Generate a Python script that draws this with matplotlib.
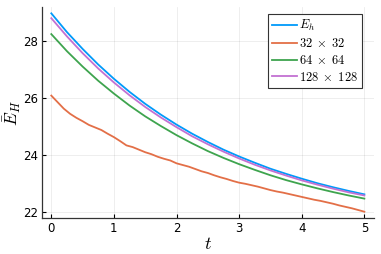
import numpy as np
import matplotlib
matplotlib.use("Agg")
import matplotlib.pyplot as plt

plt.rcParams['mathtext.fontset'] = 'cm'
plt.rcParams['font.family'] = 'DejaVu Sans'

# values (step 0.25 for the smooth curves)
t_fine = [0.0, 0.25, 0.5, 0.75, 1.0, 1.25, 1.5, 1.75, 2.0, 2.25, 2.5,
          2.75, 3.0, 3.25, 3.5, 3.75, 4.0, 4.25, 4.5, 4.75, 5.0]
E_h = [28.97, 28.31, 27.72, 27.17, 26.67, 26.21, 25.79, 25.41, 25.06, 24.74, 24.45,
       24.18, 23.94, 23.72, 23.51, 23.33, 23.16, 23.00, 22.86, 22.73, 22.61]
E_64 = [28.24, 27.64, 27.10, 26.60, 26.15, 25.73, 25.35, 25.01, 24.69, 24.40, 24.13,
        23.89, 23.67, 23.47, 23.28, 23.11, 22.96, 22.82, 22.69, 22.57, 22.46]
E_128 = [28.80, 28.16, 27.57, 27.03, 26.54, 26.09, 25.68, 25.31, 24.97, 24.65, 24.37,
         24.11, 23.87, 23.65, 23.45, 23.27, 23.10, 22.95, 22.81, 22.68, 22.57]

# the 32x32 curve is a bit bumpy, read at step 0.1
t_32 = [0.0, 0.1, 0.2, 0.3, 0.4, 0.5, 0.6, 0.7, 0.8, 0.9, 1.0, 1.1, 1.2, 1.3, 1.4, 1.5, 1.6,
        1.7, 1.8, 1.9, 2.0, 2.1, 2.2, 2.3, 2.4, 2.5, 2.6, 2.7, 2.8, 2.9, 3.0, 3.1, 3.2, 3.3,
        3.4, 3.5, 3.6, 3.7, 3.8, 3.9, 4.0, 4.1, 4.2, 4.3, 4.4, 4.5, 4.6, 4.7, 4.8, 4.9, 5.0]
E_32 = [26.08, 25.85, 25.62, 25.44, 25.30, 25.18, 25.05, 24.96, 24.87, 24.74, 24.62,
        24.48, 24.33, 24.27, 24.18, 24.09, 24.02, 23.93, 23.86, 23.80, 23.70, 23.64,
        23.58, 23.50, 23.42, 23.36, 23.28, 23.21, 23.15, 23.08, 23.02, 22.98, 22.93,
        22.88, 22.82, 22.76, 22.71, 22.67, 22.62, 22.57, 22.52, 22.47, 22.42, 22.38,
        22.33, 22.28, 22.22, 22.17, 22.12, 22.06, 22.00]

fig = plt.figure(figsize=(3.81, 2.54), dpi=100)
ax = fig.add_axes([0.110, 0.143, 0.871, 0.828])

lw = 1.3
ax.plot(t_fine, E_h, color='#009AFA', lw=lw, label=r'$E_h$')
ax.plot(t_32, E_32, color='#E36F47', lw=lw, label=r'$32\;\times\;32$')
ax.plot(t_fine, E_64, color='#3EA44E', lw=lw, label=r'$64\;\times\;64$')
ax.plot(t_fine, E_128, color='#C371D2', lw=lw, label=r'$128\;\times\;128$')

ax.set_xlim(-0.15, 5.15)
ax.set_ylim(21.79, 29.18)
ax.set_xticks([0, 1, 2, 3, 4, 5])
ax.set_yticks([22, 24, 26, 28])

ax.grid(True, color='black', alpha=0.08, lw=0.6)
for s in ['top', 'right']:
    ax.spines[s].set_visible(False)
for s in ['left', 'bottom']:
    ax.spines[s].set_linewidth(0.9)
    ax.spines[s].set_color('#333333')
ax.tick_params(direction='in', length=3, width=0.8, labelsize=8.5, colors='black', pad=3)

ax.set_xlabel(r'$t$', fontsize=13, labelpad=0)
ax.set_ylabel(r'$\bar{E}_H$', fontsize=12.5, labelpad=0)

leg = ax.legend(loc='upper right', bbox_to_anchor=(0.965, 0.969), borderaxespad=0,
                fancybox=False, edgecolor='#333333', framealpha=1, fontsize=9,
                handlelength=2.0, handletextpad=0.1, borderpad=0.35, labelspacing=0.3)
leg.get_frame().set_linewidth(0.8)

fig.savefig('out.png', dpi=100)
